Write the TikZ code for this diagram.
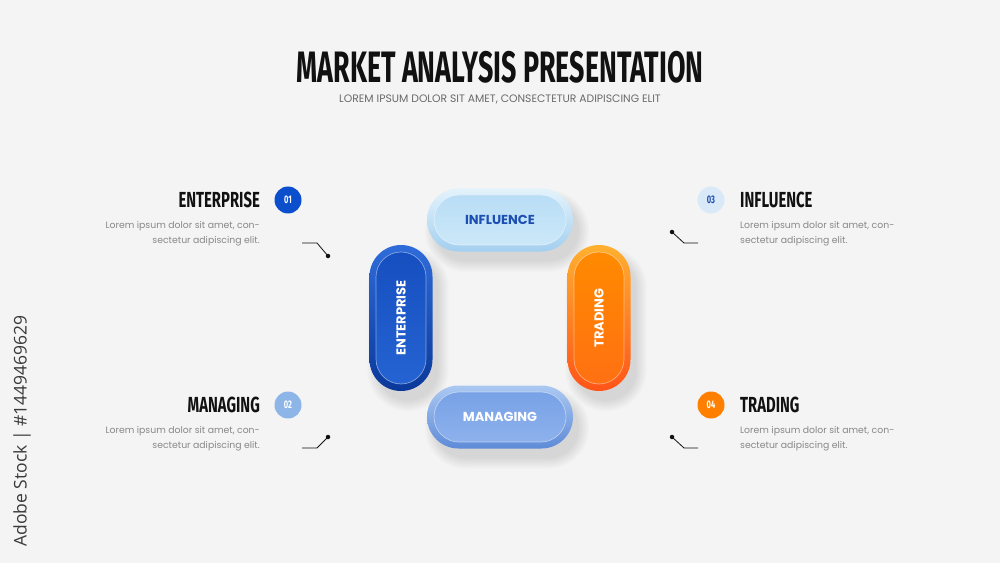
\documentclass[tikz,border=0pt]{standalone}
\usepackage{fontspec}
\setmainfont{Poppins}
\newfontfamily\headfont{Fira Sans}[FakeStretch=0.61]
\newfontfamily\labfont{Fira Sans}[FakeStretch=0.68]
\newfontfamily\markfont{Open Sans}
\usetikzlibrary{positioning,calc,shapes.misc}
\definecolor{Paper}{HTML}{F4F4F4}
\definecolor{Ink}{HTML}{111111}
\definecolor{Muted}{HTML}{888888}
\definecolor{SubGray}{HTML}{6A6A6A}
\definecolor{MarkGray}{HTML}{3A3A3A}
\definecolor{InkBlue}{HTML}{1D4FB3}
\definecolor{Royal}{HTML}{0B4FCC}
\definecolor{Powder}{HTML}{8DB5E8}
\definecolor{Pale}{HTML}{D9E9F7}
\definecolor{Orange}{HTML}{FF8000}
% pill tones: rim top/bottom, core top/bottom
\definecolor{SkyTop}{HTML}{E4F3FC}\definecolor{SkyBot}{HTML}{A3CFEF}
\definecolor{SkyCoreTop}{HTML}{B8DDF5}\definecolor{SkyCoreBot}{HTML}{CCE8F9}
\definecolor{NavyTop}{HTML}{2F6CDA}\definecolor{NavyBot}{HTML}{0A389A}
\definecolor{NavyCoreTop}{HTML}{164FC0}\definecolor{NavyCoreBot}{HTML}{2563D2}
\definecolor{FlameTop}{HTML}{FFB030}\definecolor{FlameBot}{HTML}{FF5418}
\definecolor{FlameCoreTop}{HTML}{FF8A00}\definecolor{FlameCoreBot}{HTML}{FF7012}
\definecolor{CobaltTop}{HTML}{ABC8F1}\definecolor{CobaltBot}{HTML}{5E8BD8}
\definecolor{CobaltCoreTop}{HTML}{78A2E6}\definecolor{CobaltCoreBot}{HTML}{8DB1EC}
\tikzset{
  pill/.style={rounded rectangle,minimum width=146pt,minimum height=63pt,inner sep=0pt},
  pillcore/.style={rounded rectangle,minimum width=132pt,minimum height=50pt,inner sep=0pt,draw=white,draw opacity=.45,line width=.7pt},
  pilltext/.style={font=\bfseries\fontsize{13}{13}\selectfont,inner sep=0pt},
  numdot/.style={circle,minimum size=27pt,inner sep=0pt,font=\labfont\bfseries\fontsize{11}{11}\selectfont,text=white},
  head/.style={font=\labfont\bfseries\fontsize{21.8}{22}\selectfont,text=Ink,inner sep=0pt},
  body/.style={font=\fontsize{9.3}{15}\selectfont,text=Muted,inner sep=0pt},
  lead/.style={draw=Ink,line width=.8pt},
  leaddot/.style={circle,fill=Ink,minimum size=4.5pt,inner sep=0pt}
}
\begin{document}
\begin{tikzpicture}[x=1pt,y=1pt]
  \fill[Paper] (0,0) rectangle (1000,563);
  \useasboundingbox (0,0) rectangle (1000,563);

  % title
  \node[font=\headfont\bfseries\fontsize{44}{44}\selectfont,text=Ink,inner sep=0pt] (title) at (500,496) {MARKET ANALYSIS PRESENTATION};
  \node[font=\fontsize{10.8}{11}\selectfont,text=SubGray,inner sep=0pt] (subtitle) at (500,464) {LOREM IPSUM DOLOR SIT AMET, CONSECTETUR ADIPISCING ELIT};

  % pills
  \foreach \nm/\px/\py/\rot/\tone/\lab/\ink in {
      infl/500/343/0/Sky/INFLUENCE/InkBlue,
      entp/401/245/90/Navy/ENTERPRISE/white,
      trad/599/245/90/Flame/TRADING/white,
      mang/500/146/0/Cobalt/MANAGING/white}{
    \foreach \k in {6,...,1}
      \node[pill,rotate=\rot,fill=black,fill opacity=.02,
            minimum width={(140+4*\k)*1pt},minimum height={(57+4*\k)*1pt}] at (\px+7,\py-11) {};
    \node[pill,rotate=\rot,top color=\tone Top,bottom color=\tone Bot] (\nm) at (\px,\py) {};
    \node[pillcore,rotate=\rot,top color=\tone CoreTop,bottom color=\tone CoreBot] at (\nm) {};
    \node[pilltext,rotate=\rot,text=\ink] at (\nm) {\lab};
  }

  % left side
  \node[numdot,fill=Royal] (n1) at (288,363) {01};
  \node[head,anchor=east] (h1) at (260,363) {ENTERPRISE};
  \node[body,anchor=east,align=right] (t1) at (260,329.5) {Lorem ipsum dolor sit amet, con-\\sectetur adipiscing elit.};
  \node[numdot,fill=Powder] (n2) at (288,158) {02};
  \node[head,anchor=east] (h2) at (260,158) {MANAGING};
  \node[body,anchor=east,align=right] (t2) at (260,124.5) {Lorem ipsum dolor sit amet, con-\\sectetur adipiscing elit.};

  % right side
  \node[numdot,fill=Pale,text=InkBlue] (n3) at (711,363) {03};
  \node[head,anchor=west] (h3) at (740,363) {INFLUENCE};
  \node[body,anchor=west,align=left] (t3) at (740,329.5) {Lorem ipsum dolor sit amet, con-\\sectetur adipiscing elit.};
  \node[numdot,fill=Orange] (n4) at (711,158) {04};
  \node[head,anchor=west] (h4) at (740,158) {TRADING};
  \node[body,anchor=west,align=left] (t4) at (740,124.5) {Lorem ipsum dolor sit amet, con-\\sectetur adipiscing elit.};

  % leader lines
  \coordinate (a1) at (302,320); \coordinate (b1) at (317,320); \node[leaddot] (d1) at (328,307) {};
  \coordinate (a2) at (302,115); \coordinate (b2) at (317,115); \node[leaddot] (d2) at (328,126) {};
  \coordinate (a3) at (698,320); \coordinate (b3) at (684,320); \node[leaddot] (d3) at (672,331) {};
  \coordinate (a4) at (698,115); \coordinate (b4) at (684,115); \node[leaddot] (d4) at (672,126) {};
  \foreach \i in {1,...,4}
    \draw[lead] (a\i) -- (b\i) -- (d\i.center);

  % stock mark
  \node[rotate=90,font=\markfont\fontsize{17.5}{18}\selectfont,text=MarkGray,inner sep=0pt] (mark) at (22,132) {Adobe Stock | \#1449469629};
\end{tikzpicture}
\end{document}
